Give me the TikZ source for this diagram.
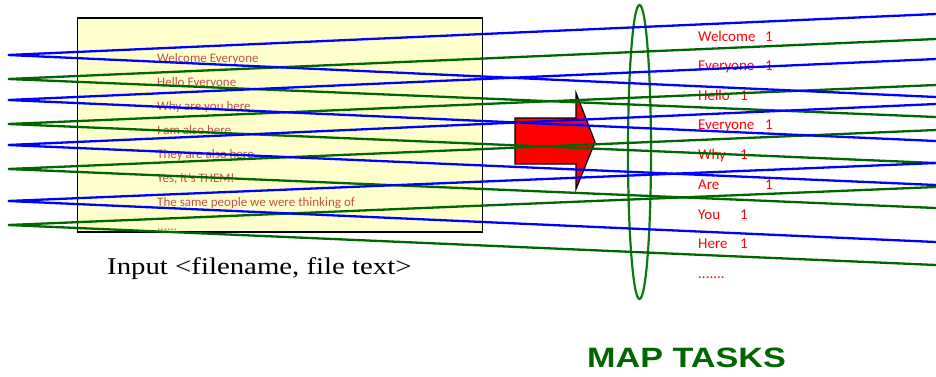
\documentclass[tikz,border=0pt]{standalone}
\usepackage{fontspec}
\usepackage{graphicx}
\usetikzlibrary{shapes.geometric}
\setmainfont{Carlito}
\newfontfamily\serifin{Liberation Serif}
\newfontfamily\arialb{Liberation Sans}
\definecolor{boxfill}{HTML}{FFFFCC}
\definecolor{txtred}{HTML}{C0504D}
\definecolor{lgreen}{HTML}{006600}
\definecolor{lblue}{HTML}{0000FF}
\definecolor{elgreen}{HTML}{0A7A0A}
\definecolor{titlegreen}{HTML}{006600}
\tikzset{
  inbox/.style={draw=black, line width=1.6pt, fill=boxfill},
  intext/.style={anchor=base west, inner sep=0pt, text=txtred, font=\fontsize{13}{15}\selectfont},
  outtext/.style={anchor=base west, inner sep=0pt, text=red, font=\fontsize{15}{17}\selectfont},
  bl/.style={draw=lblue, line width=2.3pt},
  gl/.style={draw=lgreen, line width=2.3pt},
  bigarrow/.style={draw=black, line width=1.3pt, fill=red, line join=miter},
  ring/.style={draw=elgreen, line width=2.2pt},
}
\begin{document}
\begin{tikzpicture}[x=1pt,y=-1pt]
\useasboundingbox (0,0) rectangle (936,376);
% input box
\node[inbox, minimum width=405pt, minimum height=214pt, inner sep=0pt, anchor=north west] (box) at (76.5,17) {};
\node[intext] (t1) at (157,62) {Welcome Everyone};
\node[intext] (t2) at (157,86) {Hello Everyone};
\node[intext] (t3) at (157,110) {Why are you here};
\node[intext] (t4) at (157,134) {I am also here};
\node[intext] (t5) at (157,158) {They are also here};
\node[intext] (t6) at (157,182) {Yes, it’s THEM!};
\node[intext] (t7) at (157,206) {The same people we were thinking of};
\node[intext] (t8) at (157,230) {......};
% caption
\node[anchor=base west, inner sep=0pt, font=\serifin\fontsize{24}{28}\selectfont] (cap) at (107,274) {\scalebox{1.2}[1]{Input <filename, file text>}};
% arrow
\path[bigarrow] (515,118) -- (576,118) -- (576,93) -- (595,142) -- (576,189) -- (576,164) -- (515,164) -- cycle;
% ellipse
\node[ring, ellipse, minimum width=23pt, minimum height=294pt, inner sep=0pt] (ell) at (639.5,152) {};
% output texts
\node[outtext] (o1) at (698,41) {\makebox[67pt][l]{Welcome}1};
\node[outtext] (o2) at (698,70) {\makebox[67pt][l]{Everyone}1};
\node[outtext] (o3) at (698,100) {\makebox[42pt][l]{Hello}1};
\node[outtext] (o4) at (698,129) {\makebox[67pt][l]{Everyone}1};
\node[outtext] (o5) at (698,159) {\makebox[42pt][l]{Why}1};
\node[outtext] (o6) at (698,189) {\makebox[67pt][l]{Are}1};
\node[outtext] (o7) at (698,219) {\makebox[42pt][l]{You}1};
\node[outtext] (o8) at (698,248) {\makebox[42pt][l]{Here}1};
\node[outtext] (o9) at (698,278) {.......};
% title
\node[anchor=base west, inner sep=0pt, text=titlegreen, font=\arialb\bfseries\fontsize{28}{32}\selectfont] (title) at (587,367) {\scalebox{1.22}[1]{MAP TASKS}};
% left coordinates
\coordinate (b1) at (8,55);
\coordinate (b2) at (8,100);
\coordinate (b3) at (8,145);
\coordinate (b4) at (8,201);
\coordinate (g1) at (8,79);
\coordinate (g2) at (8,124);
\coordinate (g3) at (8,169);
\coordinate (g4) at (8,225);
% right coordinates
\coordinate (rb1u) at (936,14);
\coordinate (rb1d) at (936,97);
\coordinate (rb2u) at (936,59);
\coordinate (rb2d) at (936,141);
\coordinate (rb3u) at (936,104);
\coordinate (rb3d) at (936,185);
\coordinate (rb4u) at (936,163);
\coordinate (rb4d) at (936,242);
\coordinate (rg1u) at (936,39);
\coordinate (rg1d) at (936,117);
\coordinate (rg2u) at (936,85);
\coordinate (rg2d) at (936,163);
\coordinate (rg3u) at (936,130);
\coordinate (rg3d) at (936,208);
\coordinate (rg4u) at (936,187);
\coordinate (rg4d) at (936,265);
% lines
\draw[gl] (rg1u) -- (g1) -- (rg1d);
\draw[gl] (rg2u) -- (g2) -- (rg2d);
\draw[gl] (rg3u) -- (g3) -- (rg3d);
\draw[gl] (rg4u) -- (g4) -- (rg4d);
\draw[bl] (rb1u) -- (b1) -- (rb1d);
\draw[bl] (rb2u) -- (b2) -- (rb2d);
\draw[bl] (rb3u) -- (b3) -- (rb3d);
\draw[bl] (rb4u) -- (b4) -- (rb4d);
\end{tikzpicture}
\end{document}
